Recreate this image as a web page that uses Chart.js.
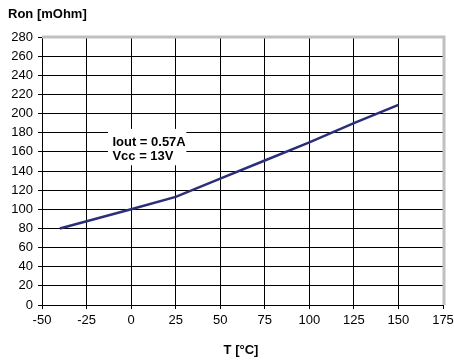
<!DOCTYPE html>
<html>
<head>
<meta charset="utf-8">
<script src="https://cdn.jsdelivr.net/npm/chart.js@4.4.0/dist/chart.umd.min.js"></script>
<style>
    html, body { margin: 0; padding: 0; background: #fff; }
    #wrap { width: 454px; height: 361px; }
</style>
</head>
<body>
<div id="wrap"><canvas id="ronChart" width="454" height="361"></canvas></div>
<script>
// Data
const temps = [-40, 0, 25, 50, 75, 100, 125, 150];
const ronValues = [80, 100, 113, 132, 151, 170, 190, 209];
const xTicks = [-50, -25, 0, 25, 50, 75, 100, 125, 150, 175];
const yTicks = [0, 20, 40, 60, 80, 100, 120, 140, 160, 180, 200, 220, 240, 260, 280];
const noteLines = ['Iout = 0.57A', 'Vcc = 13V'];

const FONT = '"Liberation Sans", Arial, sans-serif';

// Titles, grey frame and the note box
const decorations = {
    id: 'decorations',
    beforeDatasetsDraw(chart) {
        const { ctx, chartArea: a, scales } = chart;
        ctx.save();
        // grey top / right frame
        ctx.strokeStyle = '#c0c0c0';
        ctx.lineWidth = 3;
        ctx.beginPath();
        ctx.moveTo(a.left, a.top);
        ctx.lineTo(a.right + 1, a.top);
        ctx.lineTo(a.right + 1, a.bottom);
        ctx.stroke();

        // note box
        const bx = scales.x.getPixelForValue(-13);
        const by = scales.y.getPixelForValue(184);
        const bx2 = scales.x.getPixelForValue(31);
        const by2 = scales.y.getPixelForValue(146);
        ctx.fillStyle = '#fff';
        ctx.fillRect(bx, by, bx2 - bx, by2 - by);
        ctx.restore();
    },
    afterDraw(chart) {
        const { ctx, scales } = chart;
        ctx.save();
        ctx.fillStyle = '#000';
        ctx.font = 'bold 13px ' + FONT;
        ctx.textBaseline = 'middle';
        ctx.textAlign = 'left';
        ctx.fillText('Ron [mOhm]', 8, 14);

        ctx.textAlign = 'center';
        ctx.fillText('T [°C]', 241, 350);

        ctx.textAlign = 'left';
        const tx = scales.x.getPixelForValue(-10.5);
        noteLines.forEach((line, i) => {
            ctx.fillText(line, tx, scales.y.getPixelForValue(170 - i * 15));
        });
        ctx.restore();
    }
};

new Chart(document.getElementById('ronChart').getContext('2d'), {
    type: 'scatter',
    data: {
        datasets: [{
            data: temps.map((t, i) => ({ x: t, y: ronValues[i] })),
            showLine: true,
            borderColor: '#2b2f78',
            borderWidth: 2.5,
            pointRadius: 0,
            tension: 0,
            fill: false
        }]
    },
    options: {
        responsive: false,
        animation: false,
        layout: { padding: { top: 37, right: 11, left: 0, bottom: 0 } },
        plugins: {
            legend: { display: false },
            tooltip: { enabled: false }
        },
        scales: {
            x: {
                type: 'linear',
                min: xTicks[0],
                max: xTicks[xTicks.length - 1],
                afterBuildTicks: (scale) => { scale.ticks = xTicks.map(v => ({ value: v })); },
                afterFit: (scale) => {
                    scale.height = 56;
                    scale.paddingLeft = 0;
                    scale.paddingRight = 0;
                },
                grid: {
                    color: (c) => c.tick && c.tick.value === 175 ? 'rgba(0,0,0,0)' : '#000',
                    tickColor: '#000',
                    tickLength: 4,
                    lineWidth: 1
                },
                border: { color: '#000', width: 1 },
                ticks: {
                    color: '#000',
                    padding: 4,
                    maxRotation: 0,
                    font: { family: FONT, size: 13 }
                }
            },
            y: {
                type: 'linear',
                min: yTicks[0],
                max: yTicks[yTicks.length - 1],
                afterBuildTicks: (scale) => { scale.ticks = yTicks.map(v => ({ value: v })); },
                afterFit: (scale) => {
                    scale.width = 42;
                    scale.paddingTop = 0;
                    scale.paddingBottom = 0;
                },
                grid: {
                    color: (c) => c.tick && c.tick.value === 280 ? 'rgba(0,0,0,0)' : '#000',
                    tickColor: '#000',
                    tickLength: 4,
                    lineWidth: 1
                },
                border: { color: '#000', width: 1 },
                ticks: {
                    color: '#000',
                    padding: 5,
                    font: { family: FONT, size: 13 }
                }
            }
        }
    },
    plugins: [decorations]
});
</script>
</body>
</html>
